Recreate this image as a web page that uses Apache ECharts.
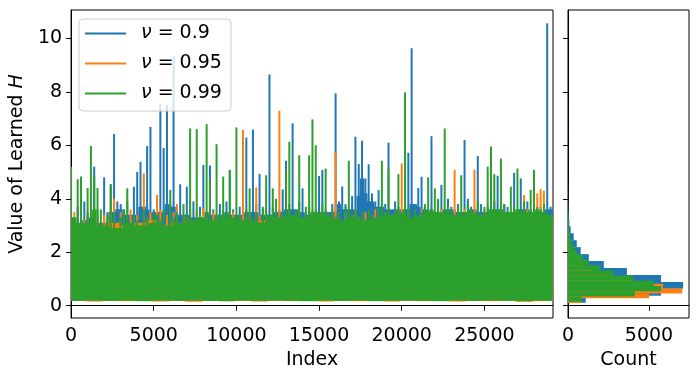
<!DOCTYPE html>
<html>
<head>
<meta charset="utf-8">
<script src="https://cdn.jsdelivr.net/npm/echarts@6/dist/echarts.min.js"></script>
<style>
  html, body { margin: 0; padding: 0; background: #fff; }
  #chart { width: 698px; height: 381px; }
</style>
</head>
<body>
<div id="chart"></div>
<script>
// learned H traces: highest value in every block of 200 indices
const BIN = 200;
const seriesNames = ["0.9", "0.95", "0.99"];
const colors = ["#1f77b4", "#ff7f0e", "#2ca02c"];

const bluePeaks = [
  3.4, 3.0, 3.7, 3.2, 3.9, 3.5, 3.3, 5.2, 3.6, 3.1,
  4.8, 3.5, 4.55, 6.42, 3.9, 3.8, 3.6, 3.9, 3.4, 4.45,
  5.0, 5.38, 3.7, 5.97, 6.69, 3.6, 3.5, 7.57, 5.9, 7.51,
  3.8, 9.34, 3.7, 4.54, 3.4, 4.45, 3.6, 3.9, 3.3, 3.7,
  5.26, 3.5, 5.24, 3.6, 3.4, 3.8, 3.5, 3.9, 5.08, 3.6,
  3.4, 3.7, 3.6, 6.29, 3.5, 6.59, 3.8, 4.93, 3.6, 3.4,
  8.65, 3.7, 3.5, 3.6, 4.35, 5.42, 3.8, 6.82, 3.6, 3.9,
  4.39, 3.5, 3.7, 3.4, 3.6, 4.85, 5.08, 3.6, 3.5, 3.8,
  7.94, 3.9, 4.46, 3.8, 3.6, 4.1, 6.32, 5.3, 6.17, 4.76,
  5.29, 4.2, 3.9, 4.33, 3.7, 3.8, 6.1, 3.6, 3.9, 3.7,
  3.6, 4.3, 5.72, 9.63, 3.8, 4.4, 4.82, 3.7, 3.6, 6.34,
  3.5, 3.9, 4.52, 3.6, 4.0, 3.7, 3.6, 3.8, 3.5, 6.2,
  4.0, 3.7, 3.6, 5.6, 3.8, 3.5, 3.7, 3.6, 3.9, 4.86,
  3.6, 3.8, 3.7, 3.5, 4.97, 3.6, 4.76, 3.7, 3.9, 3.6,
  3.8, 3.5, 3.7, 3.6, 10.56, 3.7
];
const orangePeaks = [
  3.3, 3.5, 3.0, 3.6, 3.2, 3.4, 3.1, 3.7, 3.3, 3.0,
  3.4, 3.2, 3.6, 4.0, 3.1, 3.5, 3.3, 3.0, 3.6, 3.2,
  3.4, 3.1, 4.95, 3.3, 3.5, 3.2, 4.14, 3.6, 3.0, 3.4,
  3.2, 3.5, 3.8, 3.1, 3.4, 3.3, 3.6, 3.0, 3.5, 3.2,
  3.65, 3.3, 3.1, 3.5, 3.4, 3.2, 3.6, 3.3, 3.0, 3.5,
  3.2, 3.4, 6.57, 3.3, 3.5, 3.1, 4.43, 3.4, 3.2, 3.6,
  3.3, 3.0, 3.5, 7.29, 3.2, 3.4, 3.6, 3.1, 3.3, 3.5,
  3.2, 3.4, 3.0, 3.6, 3.3, 3.1, 3.5, 3.2, 3.4, 3.6,
  5.76, 3.3, 3.1, 3.5, 3.2, 3.4, 3.6, 3.3, 3.0, 3.5,
  3.2, 3.4, 3.6, 3.1, 3.3, 3.5, 3.2, 3.4, 3.0, 3.6,
  5.32, 3.3, 3.5, 3.2, 3.4, 3.1, 3.6, 3.3, 3.5, 3.2,
  3.4, 3.0, 3.6, 3.3, 3.5, 3.2, 5.08, 3.4, 3.1, 3.6,
  3.3, 3.5, 5.08, 3.2, 3.4, 3.6, 3.1, 3.3, 3.5, 3.2,
  3.4, 3.6, 3.3, 3.1, 3.5, 3.2, 3.4, 4.14, 3.6, 3.3,
  3.5, 4.2, 4.36, 4.3, 3.4, 3.3
];
const greenPeaks = [
  5.2, 3.3, 4.73, 4.83, 3.1, 4.4, 5.97, 4.87, 4.4, 3.6,
  3.0, 3.4, 4.5, 3.5, 2.9, 3.3, 3.6, 4.39, 3.1, 3.4,
  3.2, 3.0, 3.6, 3.3, 3.1, 3.5, 3.4, 3.2, 3.6, 3.0,
  4.33, 3.3, 3.5, 3.1, 3.8, 3.4, 6.63, 3.2, 6.6, 3.5,
  3.3, 6.79, 4.7, 3.2, 6.04, 3.4, 4.83, 3.5, 5.07, 3.3,
  6.67, 3.4, 3.2, 3.6, 4.39, 3.3, 3.5, 3.1, 3.7, 4.88,
  3.4, 4.39, 4.0, 3.3, 3.5, 5.08, 6.13, 3.4, 3.6, 5.63,
  3.3, 3.7, 5.63, 6.97, 6.0, 3.5, 3.8, 5.13, 3.4, 3.6,
  3.3, 3.5, 3.2, 3.7, 5.42, 3.4, 3.6, 3.3, 3.5, 3.2,
  3.6, 3.4, 3.3, 3.7, 5.42, 3.5, 5.13, 3.4, 3.6, 4.92,
  3.5, 7.98, 3.7, 3.3, 3.6, 3.4, 3.5, 3.8, 4.8, 3.6,
  4.39, 4.0, 3.5, 6.63, 3.8, 3.6, 3.4, 3.7, 4.88, 3.5,
  3.8, 3.6, 3.5, 3.9, 3.4, 3.7, 5.2, 5.95, 4.92, 3.6,
  5.5, 3.8, 3.5, 4.45, 3.7, 5.13, 3.6, 3.9, 3.5, 4.33,
  5.08, 3.7, 3.6, 3.8, 3.5, 3.4
];
// bottom of each trace, one value per 1000 indices
const blueTroughs = [0.19, 0.2, 0.18, 0.19, 0.2, 0.19, 0.18, 0.2, 0.19, 0.18, 0.19, 0.2, 0.19, 0.18, 0.19,
  0.2, 0.19, 0.18, 0.19, 0.2, 0.19, 0.18, 0.2, 0.18, 0.19, 0.2, 0.19, 0.18, 0.19, 0.2];
const orangeTroughs = [0.18, 0.16, 0.19, 0.17, 0.19, 0.16, 0.18, 0.15, 0.19, 0.17, 0.18, 0.16, 0.19, 0.17, 0.18,
  0.16, 0.19, 0.17, 0.18, 0.16, 0.19, 0.17, 0.18, 0.16, 0.19, 0.17, 0.18, 0.15, 0.17, 0.19];
const greenTroughs = [0.18, 0.19, 0.18, 0.19, 0.17, 0.19, 0.18, 0.19, 0.18, 0.17, 0.19, 0.18, 0.19, 0.18, 0.17,
  0.19, 0.18, 0.19, 0.17, 0.18, 0.19, 0.18, 0.17, 0.19, 0.18, 0.19, 0.18, 0.17, 0.19, 0.18];

// histograms: 40 bins each, first edge + bin width, counts
const blueHistStart = 0.11, blueHistWidth = 0.26;
const blueHistCounts = [1097, 5744, 7107, 5744, 3637, 2212, 1283, 787, 539, 353, 167, 85, 45, 25, 14, 8, 5, 3, 2, 2,
  1, 1, 1, 0, 1, 0, 0, 1, 0, 0, 0, 0, 0, 0, 0, 0, 0, 0, 0, 1];
const orangeHistStart = 0.10, orangeHistWidth = 0.18;
const orangeHistCounts = [790, 5003, 7050, 5870, 4000, 2500, 1500, 900, 550, 330, 200, 120, 70, 40, 25, 15, 9, 5, 3, 2,
  1, 1, 1, 0, 1, 0, 0, 0, 1, 0, 0, 0, 0, 0, 0, 0, 0, 0, 0, 1];
const greenHistStart = 0.15, greenHistWidth = 0.195;
const greenHistCounts = [830, 4135, 5744, 5310, 4011, 2833, 1965, 1283, 911, 539, 353, 208, 126, 64, 40, 25, 15, 9, 5, 3,
  2, 1, 1, 1, 0, 1, 0, 0, 1, 0, 0, 0, 0, 0, 0, 0, 0, 0, 0, 1];

const xTicks = [0, 5000, 10000, 15000, 20000, 25000];
const yTicks = [0, 2, 4, 6, 8, 10];
const countTicks = [0, 5000];

// each block is the column the dense trace fills; whatever sticks out above
// the lowest peak nearby (two blocks each side) is drawn as a thin spike
function buildTrace(peaks, troughs) {
  return peaks.map((p, i) => {
    let near = peaks.slice(Math.max(0, i - 2), i + 3);
    return [i * BIN, p, troughs[Math.floor(i / 5)], Math.min(...near)];
  });
}
function buildHist(start, width, counts) {
  return counts.map((c, i) => [start + i * width, start + (i + 1) * width, c]);
}

const FONT = "DejaVu Sans";
const yMin = -0.46, yMax = 11.06;

const traces = [
  buildTrace(bluePeaks, blueTroughs),
  buildTrace(orangePeaks, orangeTroughs),
  buildTrace(greenPeaks, greenTroughs),
];
const hists = [
  buildHist(blueHistStart, blueHistWidth, blueHistCounts),
  buildHist(orangeHistStart, orangeHistWidth, orangeHistCounts),
  buildHist(greenHistStart, greenHistWidth, greenHistCounts),
];

let myChart = echarts.init(document.getElementById("chart"));
let series = [];
traces.forEach((d, k) => {
  series.push({
    name: "nu" + k,
    type: "custom",
    xAxisIndex: 0,
    yAxisIndex: 0,
    data: d,
    encode: { x: 0, y: [1, 2] },
    clip: true,
    itemStyle: { color: colors[k] },
    z: 2 + k,
    renderItem: function (params, api) {
      let x = api.value(0);
      let top = api.coord([x, api.value(1)]);
      let shoulder = api.coord([x, api.value(3)]);
      let left = api.coord([x - BIN / 2, api.value(2)]);
      let right = api.coord([x + BIN / 2, api.value(2)]);
      let children = [{
        type: "rect",
        shape: { x: left[0] - 0.5, y: shoulder[1], width: right[0] - left[0] + 1, height: left[1] - shoulder[1] },
        style: { fill: colors[k] },
      }];
      if (top[1] < shoulder[1]) {
        children.push({
          type: "rect",
          shape: { x: top[0] - 1, y: top[1], width: 2, height: shoulder[1] - top[1] + 1 },
          style: { fill: colors[k] },
        });
      }
      return { type: "group", children: children };
    },
  });
});
hists.forEach((d, k) => {
  series.push({
    type: "custom",
    xAxisIndex: 1,
    yAxisIndex: 1,
    data: d,
    encode: { x: 2, y: [0, 1] },
    clip: true,
    z: 2 + k,
    renderItem: function (params, api) {
      let p0 = api.coord([0, api.value(1)]);
      let p1 = api.coord([api.value(2), api.value(0)]);
      return {
        type: "rect",
        shape: { x: p0[0], y: p0[1], width: p1[0] - p0[0], height: p1[1] - p0[1] },
        style: { fill: colors[k] },
      };
    },
  });
});

const tickStyle = { show: true, length: 5, lineStyle: { color: "#000", width: 1 } };
const labelStyle = { color: "#000", fontFamily: FONT, fontSize: 19 };
const plain = (v) => String(v);

myChart.setOption({
  animation: false,
  backgroundColor: "#fff",
  grid: [
    { left: 69, top: 10, width: 484, height: 308, show: true, borderColor: "#000", borderWidth: 1, backgroundColor: "transparent" },
    { left: 568, top: 10, width: 121, height: 308, show: true, borderColor: "#000", borderWidth: 1, backgroundColor: "transparent" },
  ],
  legend: {
    data: ["nu0", "nu1", "nu2"],
    orient: "vertical",
    left: 79,
    top: 19,
    padding: [5, 9, 8, 6],
    itemGap: 11,
    itemWidth: 41,
    itemHeight: 2,
    icon: "rect",
    backgroundColor: "rgba(255,255,255,0.8)",
    borderColor: "#cccccc",
    borderWidth: 1,
    borderRadius: 4,
    formatter: function (name) {
      return "{i|ν}{t| = " + seriesNames[Number(name.slice(2))] + "}";
    },
    textStyle: {
      padding: [0, 0, 0, 10],
      rich: {
        i: { fontFamily: FONT, fontSize: 19, fontStyle: "italic", color: "#000", lineHeight: 20 },
        t: { fontFamily: FONT, fontSize: 19, color: "#000", lineHeight: 20 },
      },
    },
  },
  xAxis: [
    {
      gridIndex: 0, type: "value", min: 0, max: 29150,
      name: "Index", nameLocation: "middle", nameGap: 31,
      nameTextStyle: labelStyle,
      axisLine: { show: true, lineStyle: { color: "#000" } },
      axisTick: Object.assign({ customValues: xTicks }, tickStyle),
      axisLabel: Object.assign({ customValues: xTicks, margin: 9, formatter: plain }, labelStyle),
      splitLine: { show: false },
    },
    {
      gridIndex: 1, type: "value", min: 0, max: 7470,
      name: "Count", nameLocation: "middle", nameGap: 31,
      nameTextStyle: labelStyle,
      axisLine: { show: true, lineStyle: { color: "#000" } },
      axisTick: Object.assign({ customValues: countTicks }, tickStyle),
      axisLabel: Object.assign({ customValues: countTicks, margin: 9, formatter: plain }, labelStyle),
      splitLine: { show: false },
    },
  ],
  yAxis: [
    {
      gridIndex: 0, type: "value", min: yMin, max: yMax,
      name: "Value of Learned {i|H}", nameLocation: "middle", nameGap: 37,
      nameTextStyle: Object.assign({
        rich: { i: { fontFamily: FONT, fontSize: 19, fontStyle: "italic", color: "#000" } },
      }, labelStyle),
      axisLine: { show: true, lineStyle: { color: "#000" } },
      axisTick: Object.assign({ customValues: yTicks }, tickStyle),
      axisLabel: Object.assign({ customValues: yTicks, margin: 9, formatter: plain }, labelStyle),
      splitLine: { show: false },
    },
    {
      gridIndex: 1, type: "value", min: yMin, max: yMax,
      axisLine: { show: true, lineStyle: { color: "#000" } },
      axisTick: Object.assign({ customValues: yTicks }, tickStyle),
      axisLabel: { show: false },
      splitLine: { show: false },
    },
  ],
  series: series,
});
</script>
</body>
</html>
